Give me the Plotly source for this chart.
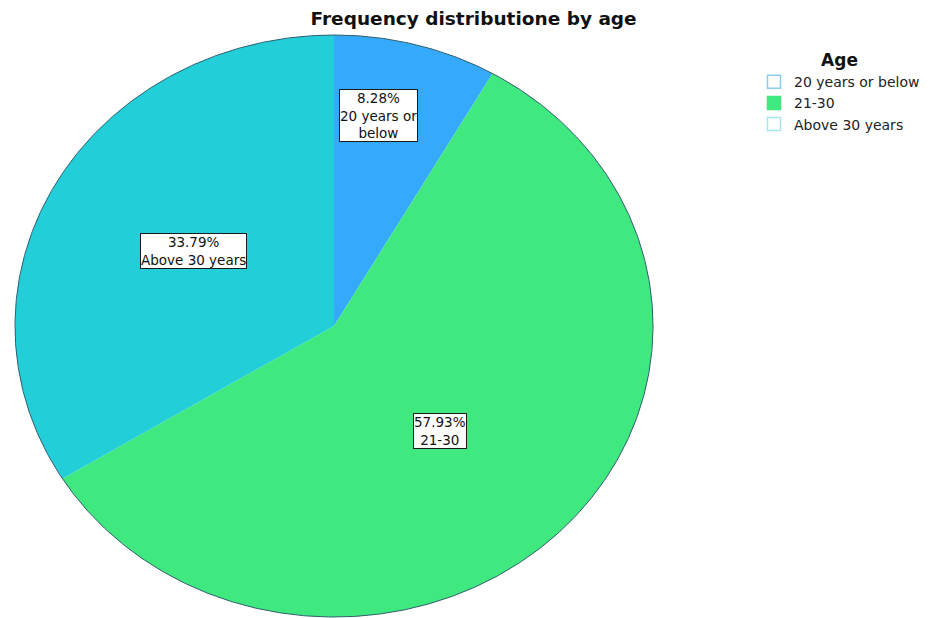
import numpy as np
import plotly.graph_objects as go

# ---- data ----
categories = ["20 years or below", "21-30", "Above 30 years"]
percentages = [8.28, 57.93, 33.79]
label_texts = ["20 years or<br>below", "21-30", "Above 30 years"]

# ---- styles ----
slice_colors = ["#35AAFC", "#40E880", "#22CFD9"]
legend_symbols = ["square-open", "square", "square-open"]
legend_colors = ["#8CCBF2", "#40E880", "#A6E8EC"]
label_radius = [0.735, 0.49, 0.51]
label_angle_shift = [-4.0, 3.3, 1.3]   # degrees
FONT = "DejaVu Sans"

fig = go.Figure()

total = sum(percentages)
start = 0.0
annotations = []
for cat, pct, col, lr, ls, lt in zip(categories, percentages, slice_colors,
                                     label_radius, label_angle_shift, label_texts):
    sweep = 2 * np.pi * pct / total
    th = np.linspace(start, start + sweep, max(int(sweep * 120), 4))
    xs = np.concatenate([[0.0], np.sin(th), [0.0]])
    ys = np.concatenate([[0.0], np.cos(th), [0.0]])
    fig.add_trace(go.Scatter(x=xs, y=ys, mode="lines", fill="toself",
                             fillcolor=col, line=dict(width=0, color=col),
                             showlegend=False, hoverinfo="skip"))
    mid = start + sweep / 2 + np.radians(ls)
    annotations.append(dict(x=lr * np.sin(mid), y=lr * np.cos(mid), xref="x", yref="y",
                            text=f"{pct:.2f}%<br>{lt}", showarrow=False,
                            bgcolor="white", bordercolor="#1b1b1b", borderwidth=1,
                            borderpad=0, font=dict(family=FONT, size=13.5, color="#111111")))
    start += sweep

# outline of the pie
th = np.linspace(0, 2 * np.pi, 721)
fig.add_trace(go.Scatter(x=np.sin(th), y=np.cos(th), mode="lines",
                         line=dict(width=1, color="#2E5E6E"),
                         showlegend=False, hoverinfo="skip"))

# legend entries
for cat, sym, lc in zip(categories, legend_symbols, legend_colors):
    fig.add_trace(go.Scatter(x=[None], y=[None], mode="markers", name=cat,
                             marker=dict(symbol=sym, size=13, color=lc,
                                         line=dict(width=1.5, color=lc))))

fig.update_layout(
    width=936, height=618,
    margin=dict(l=0, r=0, t=0, b=0),
    paper_bgcolor="white", plot_bgcolor="white",
    title=dict(text="<b>Frequency distributione by age</b>", x=0.506, xanchor="center",
               y=1 - 19 / 618, yanchor="middle", yref="container",
               font=dict(family=FONT, size=18.5, color="#111111")),
    xaxis=dict(range=[-1.047, 1.887], visible=False, fixedrange=True),
    yaxis=dict(range=[-1.0034, 1.1203], visible=False, fixedrange=True),
    legend=dict(x=754 / 936, y=1 - 44 / 618, xanchor="left", yanchor="top",
                bgcolor="rgba(0,0,0,0)",
                font=dict(family=FONT, size=14, color="#222222"),
                title=dict(text="<b>Age</b>", side="top center",
                           font=dict(family=FONT, size=17, color="#111111")),
                itemwidth=30, tracegroupgap=0),
    annotations=annotations,
    showlegend=True,
)

fig.write_html("out.html")
